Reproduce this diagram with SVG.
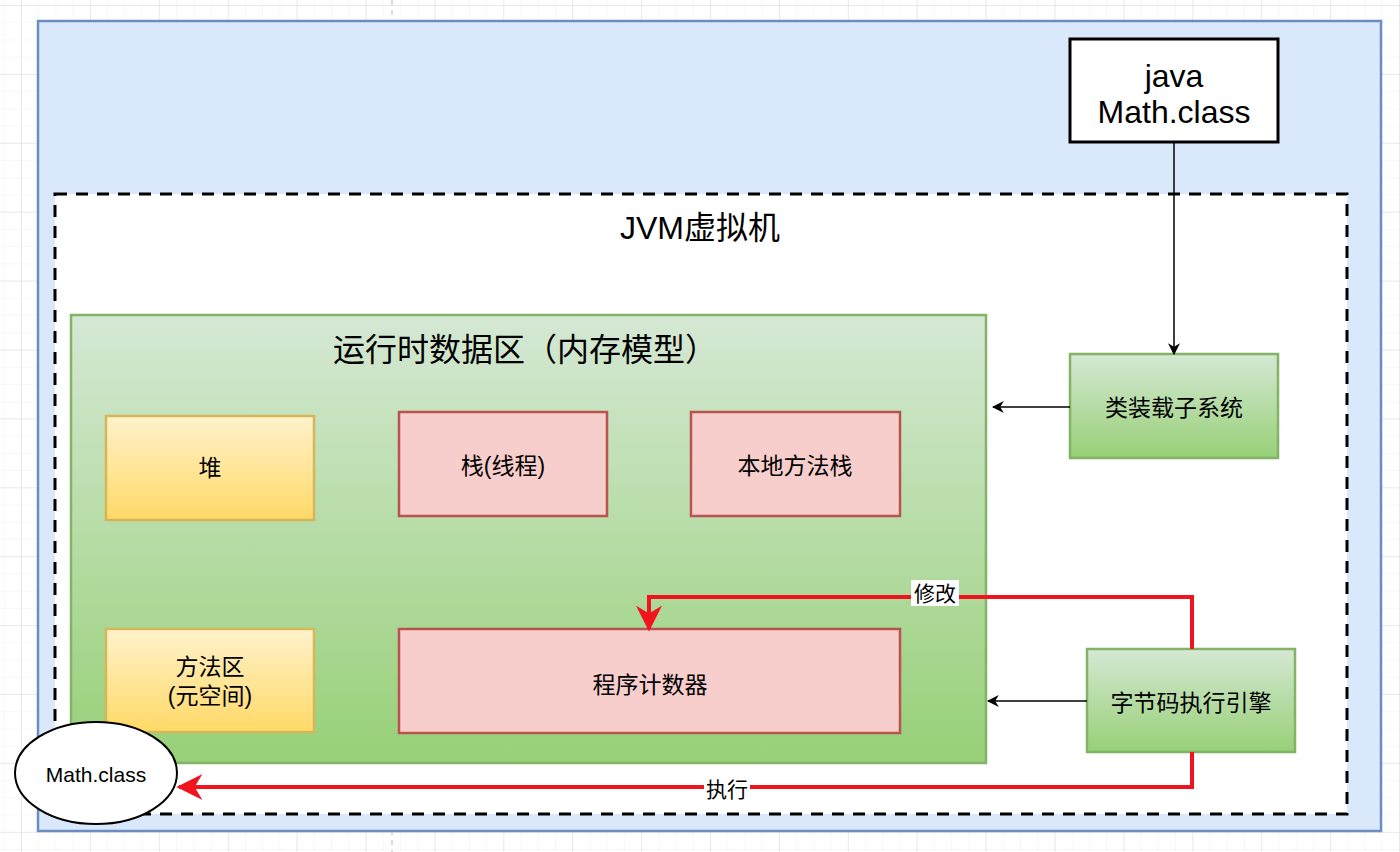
<svg xmlns="http://www.w3.org/2000/svg" width="1400" height="852" viewBox="0 0 1400 852">
<defs>
<pattern id="minor" x="21" y="5" width="17.225" height="17.225" patternUnits="userSpaceOnUse">
<path d="M0 0V17.225M0 0H17.225" fill="none" stroke="#efefef" stroke-width="1"/>
</pattern>
<pattern id="major" x="21" y="5" width="68.9" height="68.9" patternUnits="userSpaceOnUse">
<path d="M0 0V68.9M0 0H68.9" fill="none" stroke="#dcdcdc" stroke-width="1"/>
</pattern>
<linearGradient id="gGreen" x1="0" y1="0" x2="0" y2="1">
<stop offset="0" stop-color="#d5e8d4"/><stop offset="1" stop-color="#97d077"/>
</linearGradient>
<linearGradient id="gYellow" x1="0" y1="0" x2="0" y2="1">
<stop offset="0" stop-color="#fff2cc"/><stop offset="1" stop-color="#ffd966"/>
</linearGradient>
<marker id="arrBlack" viewBox="0 0 10 10" refX="9" refY="5" markerWidth="12" markerHeight="12" orient="auto" markerUnits="userSpaceOnUse">
<path d="M0 0L10 5L0 10L3 5Z" fill="#000"/>
</marker>
<marker id="arrRed" viewBox="0 0 10 10" refX="9" refY="5" markerWidth="26" markerHeight="26" orient="auto" markerUnits="userSpaceOnUse">
<path d="M0 0L10 5L0 10L3 5Z" fill="#f0141e"/>
</marker>
<style>
text{font-family:"Liberation Sans","Noto Sans CJK SC",sans-serif;fill:#000;text-anchor:middle;dominant-baseline:central}
.green{fill:url(#gGreen);stroke:#82b366;stroke-width:2.5}
.yellow{fill:url(#gYellow);stroke:#d6b656;stroke-width:2.5}
.red{fill:#f8cecc;stroke:#b85450;stroke-width:2.5}
.t22{font-size:23px}
.t28{font-size:32px}
.blk{fill:none;stroke:#000;stroke-width:1.5}
.rd{fill:none;stroke:#f0141e;stroke-width:4}
</style>
</defs>
<rect width="1400" height="852" fill="#fff"/>
<rect width="1400" height="852" fill="url(#minor)"/>
<rect width="1400" height="852" fill="url(#major)"/>
<line x1="392" y1="0" x2="392" y2="852" stroke="#cfcfcf" stroke-width="1.5" stroke-dasharray="5 5"/>

<g id="outer">
<rect x="38" y="21" width="1343" height="810" fill="#dae8fc" stroke="#6c8ebf" stroke-width="2.5"/>
</g>
<g id="jvm">
<rect x="55" y="194" width="1292" height="620" fill="#fff" stroke="#000" stroke-width="3" stroke-dasharray="12 9"/>
<text x="700" y="228" class="t28">JVM虚拟机</text>
</g>
<g id="runtime">
<rect x="71" y="315" width="915" height="448" class="green"/>
<text x="525" y="350" class="t28">运行时数据区（内存模型）</text>
</g>
<g id="heap">
<rect x="106" y="416" width="208" height="104" class="yellow"/>
<text x="210" y="468" class="t22">堆</text>
</g>
<g id="method">
<rect x="106" y="629" width="208" height="103" class="yellow"/>
<text x="210" y="667" class="t22">方法区</text>
<text x="210" y="696" class="t22">(元空间)</text>
</g>
<g id="stack">
<rect x="399" y="412" width="208" height="104" class="red"/>
<text x="503" y="466" class="t22">栈(线程)</text>
</g>
<g id="native">
<rect x="691" y="412" width="209" height="104" class="red"/>
<text x="795" y="466" class="t22">本地方法栈</text>
</g>
<g id="pc">
<rect x="399" y="629" width="501" height="104" class="red"/>
<text x="650" y="685" class="t22">程序计数器</text>
</g>
<g id="javaclass">
<rect x="1070" y="39" width="208" height="103" fill="#fff" stroke="#000" stroke-width="3"/>
<text x="1174" y="76" class="t28">java</text>
<text x="1174" y="112" class="t28">Math.class</text>
</g>
<g id="loader">
<rect x="1070" y="354" width="208" height="104" class="green"/>
<text x="1174" y="408" class="t22">类装载子系统</text>
</g>
<g id="engine">
<rect x="1087" y="649" width="208" height="103" class="green"/>
<text x="1191" y="703" class="t22">字节码执行引擎</text>
</g>
<g id="mathclass">
<ellipse cx="96" cy="773" rx="81" ry="51" fill="#fff" stroke="#000" stroke-width="2"/>
<text x="96" y="774" style="font-size:21px">Math.class</text>
</g>
<g id="connectors">
<path d="M1174 142V354" class="blk" marker-end="url(#arrBlack)"/>
<path d="M1070 407H993" class="blk" marker-end="url(#arrBlack)"/>
<path d="M1087 701H988" class="blk" marker-end="url(#arrBlack)"/>
<path d="M1192 649V597H649V629" class="rd" marker-end="url(#arrRed)"/>
<path d="M1192 752V787H179" class="rd" marker-end="url(#arrRed)"/>
<rect x="911" y="580" width="48" height="26" fill="#fff"/>
<text x="935" y="593" style="font-size:21px">修改</text>
<rect x="704" y="776" width="46" height="26" fill="#fff"/>
<text x="727" y="789" style="font-size:21px">执行</text>
</g>
</svg>
